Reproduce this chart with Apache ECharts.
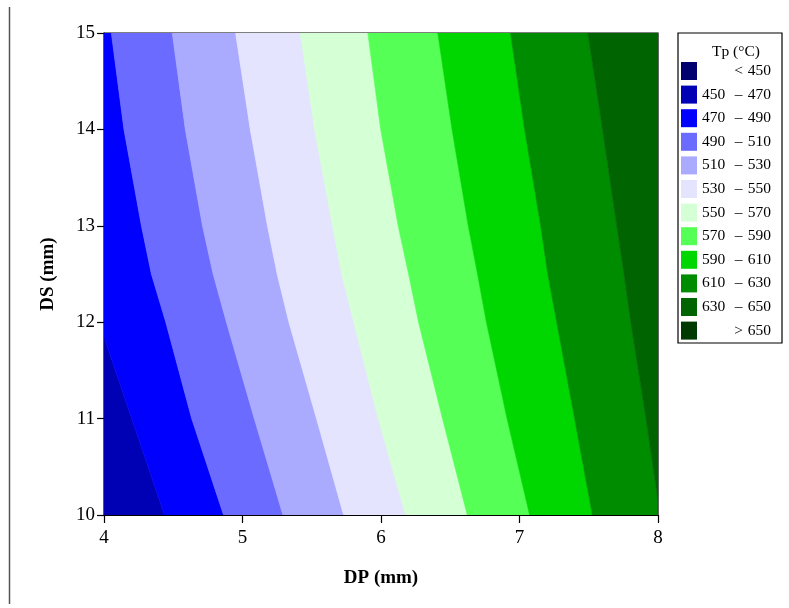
<!DOCTYPE html>
<html>
<head>
<meta charset="utf-8">
<script src="https://cdn.jsdelivr.net/npm/echarts@6/dist/echarts.min.js"></script>
<style>
  html, body { margin: 0; padding: 0; background: #fff; }
  #chart { width: 789px; height: 608px; }
</style>
</head>
<body>
<div id="chart"></div>
<script>
// Temperature bands (legend order) and their fill colours
const bandNames = ['<450', '450-470', '470-490', '490-510', '510-530', '530-550',
                   '550-570', '570-590', '590-610', '610-630', '630-650', '>650'];
const bandColors = ['#00006e', '#0000b4', '#0000ff', '#6b6bff', '#aaaaff', '#e4e4ff',
                    '#d5ffd5', '#55ff55', '#00d600', '#008c00', '#006400', '#003a00'];

// Contour lines of Tp: DP (mm) positions at given DS (mm) levels
const dsLevels = [15, 14, 13, 12.5, 12, 11, 10];
const c470DS = [15, 11.85, 11, 10];
const c470DP = [4.0, 4.0, 4.2, 4.437];
const c490DP = [4.053, 4.144, 4.270, 4.342, 4.446, 4.633, 4.863];
const c510DP = [4.493, 4.587, 4.711, 4.788, 4.884, 5.085, 5.292];
const c530DP = [4.950, 5.056, 5.180, 5.250, 5.335, 5.534, 5.730];
const c550DP = [5.417, 5.521, 5.650, 5.716, 5.804, 5.980, 6.178];
const c570DP = [5.905, 5.998, 6.124, 6.199, 6.271, 6.444, 6.623];
const c590DP = [6.410, 6.513, 6.630, 6.697, 6.761, 6.910, 7.073];
const c610DP = [6.935, 7.037, 7.153, 7.204, 7.269, 7.398, 7.526];
const c630DS = [15, 14, 13, 12.5, 12, 11, 10.15, 10];
const c630DP = [7.493, 7.599, 7.702, 7.754, 7.803, 7.913, 8.0, 8.0];

// Domain edges
const dpRange = [4, 8];
const dsRange = [10, 15];
const xTicks = [4, 5, 6, 7, 8];
const yTicks = [10, 11, 12, 13, 14, 15];

function line(dsArr, dpArr) {
  return dsArr.map((ds, i) => [dpArr[i], ds]);
}
const leftEdge = [[dpRange[0], dsRange[1]], [dpRange[0], dsRange[0]]];
const rightEdge = [[dpRange[1], dsRange[1]], [dpRange[1], dsRange[0]]];
const contours = [
  leftEdge,
  line(c470DS, c470DP),
  line(dsLevels, c490DP),
  line(dsLevels, c510DP),
  line(dsLevels, c530DP),
  line(dsLevels, c550DP),
  line(dsLevels, c570DP),
  line(dsLevels, c590DP),
  line(dsLevels, c610DP),
  line(c630DS, c630DP),
  rightEdge
];

const FONT = '"Liberation Serif", "DejaVu Serif", serif';

// One custom series per legend entry; bands 1..10 fill between contour lines
const series = bandNames.map((name, idx) => {
  const k = idx - 1; // band k lies between contours[k] and contours[k+1]
  const hasBand = k >= 0 && k + 1 < contours.length;
  return {
    type: 'custom',
    name: name,
    clip: true,
    itemStyle: { color: bandColors[idx] },
    data: hasBand ? [[k]] : [],
    encode: { x: -1, y: -1 },
    renderItem: function (params, api) {
      const left = contours[k];
      const right = contours[k + 1].slice().reverse();
      const pts = left.concat(right).map(p => api.coord(p));
      return {
        type: 'polygon',
        shape: { points: pts },
        style: { fill: bandColors[idx], stroke: bandColors[idx], lineWidth: 0.6 }
      };
    }
  };
});

const chart = echarts.init(document.getElementById('chart'), null, { renderer: 'canvas' });
chart.setOption({
  animation: false,
  backgroundColor: '#fff',
  grid: {
    left: 104, top: 33, right: 131, bottom: 93,
    show: true, borderColor: '#000', borderWidth: 1.2, backgroundColor: 'transparent'
  },
  xAxis: {
    type: 'value', min: dpRange[0], max: dpRange[1], interval: 1,
    name: 'DP (mm)', nameLocation: 'middle', nameGap: 54,
    nameTextStyle: { fontFamily: FONT, fontWeight: 'bold', fontSize: 19, color: '#000' },
    axisLine: { show: true, lineStyle: { color: '#000', width: 1.2 } },
    axisTick: { show: true, length: 8, lineStyle: { color: '#000', width: 1.2 } },
    axisLabel: { fontFamily: FONT, fontSize: 19, color: '#000', margin: 14,
                 formatter: v => (xTicks.indexOf(v) >= 0 ? String(v) : '') },
    splitLine: { show: false }
  },
  yAxis: {
    type: 'value', min: dsRange[0], max: dsRange[1], interval: 1,
    name: 'DS (mm)', nameLocation: 'middle', nameGap: 46, nameRotate: 90,
    nameTextStyle: { fontFamily: FONT, fontWeight: 'bold', fontSize: 19, color: '#000' },
    axisLine: { show: true, lineStyle: { color: '#000', width: 1.2 } },
    axisTick: { show: true, length: 7, lineStyle: { color: '#000', width: 1.2 } },
    axisLabel: { fontFamily: FONT, fontSize: 19, color: '#000', margin: 9,
                 formatter: v => (yTicks.indexOf(v) >= 0 ? String(v) : '') },
    splitLine: { show: false }
  },
  legend: {
    orient: 'vertical',
    left: 681, top: 62,
    icon: 'rect',
    itemWidth: 16, itemHeight: 18, itemGap: 5.6,
    padding: 0,
    selectedMode: false,
    data: bandNames,
    formatter: function (name) {
      if (name.charAt(0) === '<' || name.charAt(0) === '>') {
        return '{a|}{b|' + name.charAt(0) + '}{c|' + name.slice(1) + '}';
      }
      const parts = name.split('-');
      return '{a|' + parts[0] + '}{b|–}{c|' + parts[1] + '}';
    },
    textStyle: {
      fontFamily: FONT, fontSize: 15.5, color: '#000',
      rich: {
        a: { width: 27, align: 'left', fontFamily: FONT, fontSize: 15.5, color: '#000' },
        b: { width: 19, align: 'center', fontFamily: FONT, fontSize: 15.5, color: '#000' },
        c: { width: 23, align: 'right', fontFamily: FONT, fontSize: 15.5, color: '#000' }
      }
    }
  },
  graphic: [
    {
      type: 'rect', z: -1,
      shape: { x: 678, y: 33, width: 104, height: 310 },
      style: { fill: '#fff', stroke: '#000', lineWidth: 1.2 }
    },
    {
      type: 'text', z: 10,
      style: { x: 736, y: 52, text: 'Tp (°C)', font: '15.5px ' + FONT,
               fill: '#000', textAlign: 'center', textVerticalAlign: 'middle' }
    },
    {
      type: 'line', z: 10,
      shape: { x1: 9.5, y1: 7, x2: 9.5, y2: 604 },
      style: { stroke: '#555', lineWidth: 1.5 }
    }
  ],
  series: series
});
</script>
</body>
</html>
